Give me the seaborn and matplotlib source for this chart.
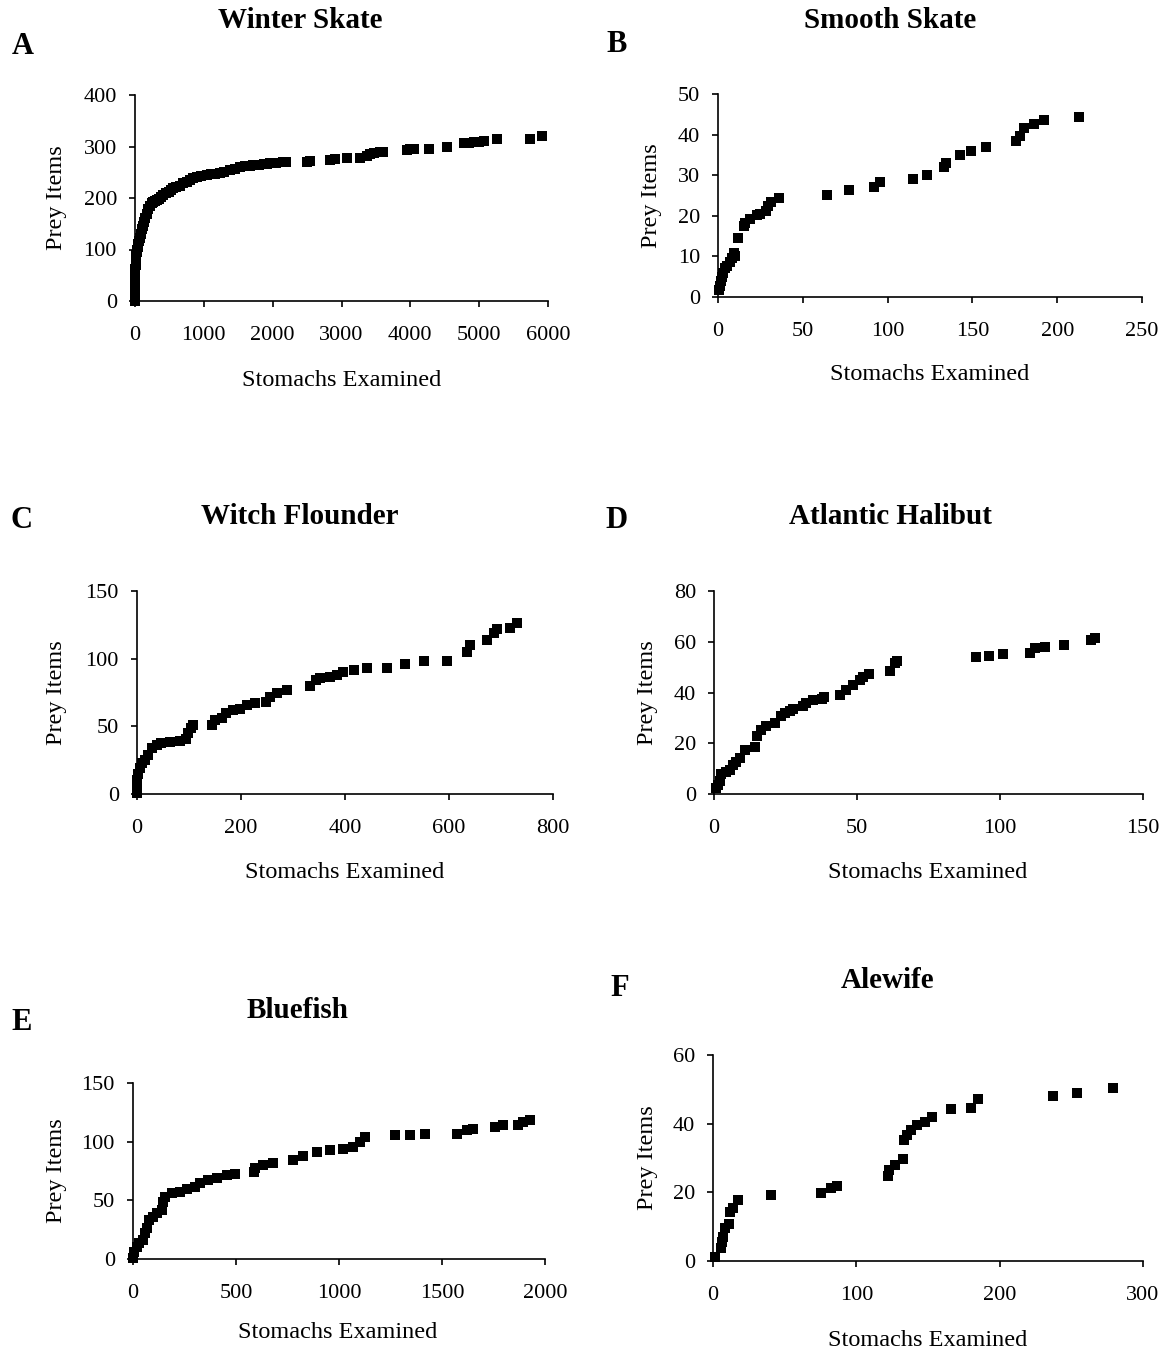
import matplotlib
matplotlib.use("Agg")
import matplotlib.pyplot as plt
import seaborn as sns
import pandas as pd

# ---------------- data ----------------
ws_x = [0, 0, 0, 0, 0, 3, 5, 8, 12, 16,
        20, 25, 30, 38, 48, 58, 70, 85, 97, 110,
        125, 145, 170, 195, 220, 242, 265, 290, 315, 345,
        380, 412, 450, 490, 530, 557, 600, 650, 703, 750,
        800, 848, 900, 960, 1042, 1100, 1160, 1236, 1300, 1381,
        1450, 1526, 1600, 1672, 1720, 1800, 1870, 1914, 1963, 2050,
        2157, 2200, 2496, 2544, 2835, 2900, 3078, 3272, 3369, 3420,
        3465, 3563, 3600, 3950, 4000, 4047, 4265, 4531, 4774, 4850,
        4919, 5000, 5065, 5258, 5743, 5913]
ws_y = [0, 12, 25, 38, 50, 56, 62, 70, 78, 85,
        90, 95, 100, 105, 110, 116, 122, 130, 139, 146,
        154, 162, 168, 178, 185, 190, 193, 195, 196, 199,
        202, 206, 209, 212, 216, 219, 221, 224, 229, 232,
        235, 239, 240, 242, 245, 246, 247, 248, 251, 254,
        257, 260, 262, 263, 264, 265, 266, 266, 267, 268,
        269, 270, 270, 272, 274, 275, 277, 277, 281, 285,
        288, 290, 290, 293, 295, 296, 296, 300, 306, 307,
        308, 309, 310, 314, 314, 320]

ss_x = [0.4, 1, 1.8, 2.4, 3, 4.3, 5.3, 7.3, 8.3, 9.2,
        10.2, 11.8, 15.1, 16.1, 19.1, 23, 25, 28.5, 29.3, 31.2,
        36.2, 64.3, 77, 91.8, 95.7, 114.8, 123.2, 133, 134.4, 142.9,
        149.4, 158, 175.9, 177.9, 180.6, 186.1, 192, 212.7]
ss_y = [1.8, 2.6, 3.9, 5, 6, 7.1, 7.7, 8.5, 9.6, 10.8,
        10, 14.5, 17.4, 18.2, 19.2, 20.2, 20.5, 21.3, 22.5, 23.3,
        24.3, 25.2, 26.4, 27, 28.4, 29, 30.1, 32.1, 33, 35,
        36, 37, 38.4, 39.7, 41.6, 42.5, 43.6, 44.4]

wf_x = [0, 0, 0.6, 2.6, 5.8, 9, 15, 22, 28, 38,
        47, 63, 83, 95, 99, 103, 108, 144, 150, 163,
        172, 185, 198, 211, 227, 249, 256, 269, 288, 333,
        345, 352, 372, 385, 397, 417, 442, 481, 516, 551,
        596, 635, 641, 673, 686, 692, 718, 731]
wf_y = [0.5, 5, 10, 15, 19, 22.7, 25, 29, 34, 36,
        37.4, 38.7, 39.4, 41, 45, 48.5, 51, 51, 54.7, 56,
        60, 62, 63, 66, 67, 68, 72, 74.5, 77, 79.6,
        84.5, 85.6, 86.8, 88, 90.5, 91.7, 93, 93, 96, 98,
        98, 105, 110, 114, 119, 122, 122.5, 126.6]

ah_x = [0.6, 1.4, 2.2, 2.6, 4.3, 5.5, 6.7, 7.8, 9, 10.7,
        14.2, 15, 16.6, 18.3, 21.2, 23.6, 24.7, 26.5, 27.7, 31.2,
        32.3, 34.7, 37.6, 38.4, 44, 46.3, 48.7, 51, 52, 54.3,
        61.7, 63.3, 64, 91.6, 96, 101, 110.5, 112.3, 115.8, 122.4,
        131.8, 133.3]
ah_y = [2.4, 3.7, 5, 8, 8.5, 9.6, 11.5, 12.5, 14.2, 17.4,
        18.5, 22.7, 25.3, 26.9, 28, 30.6, 31.9, 32.9, 33.4, 34.8,
        35.8, 36.9, 37.4, 38.4, 39.1, 41, 43, 45, 46.3, 47.3,
        48.3, 51.5, 52.6, 53.8, 54.2, 55.2, 55.7, 57.4, 58, 58.8,
        60.7, 61.6]

bf_x = [1.6, 5, 18, 31, 50, 58, 66, 79, 99, 118,
        139, 147, 156, 188, 228, 261, 301, 326, 366, 407,
        455, 496, 585, 593, 633, 682, 777, 826, 891, 955,
        1020, 1069, 1101, 1125, 1271, 1344, 1417, 1571, 1619, 1652,
        1757, 1798, 1870, 1895, 1927]
bf_y = [0.6, 6.3, 10.5, 13.4, 16.2, 22, 26, 33, 36, 39,
        42, 49, 53, 56, 57.4, 59.4, 61, 65, 67.3, 68.8,
        71.6, 72.4, 74.4, 77.3, 80, 82, 84.8, 87.6, 91.3, 92.7,
        94.1, 95.5, 99.8, 104, 105.5, 105.5, 106.9, 106.9, 109.7, 111,
        112.6, 114, 114, 116.8, 118.2]

aw_x = [1.6, 5.6, 6.3, 7, 8.1, 10.9, 12.1, 13.7, 17.4, 40.7,
        75.6, 82.6, 86.5, 122, 123, 126.7, 132.6, 133.5, 135.3, 138.1,
        142.3, 148.1, 152.8, 166, 180.2, 184.9, 237.2, 254, 278.8]
aw_y = [1.1, 3.7, 5.6, 7.1, 9.5, 10.8, 14.4, 15.3, 17.8, 19.2,
        19.7, 21.4, 21.9, 24.8, 26.5, 28, 29.6, 35.2, 36.7, 38.2,
        39.6, 40.6, 42, 44.3, 44.7, 47.1, 48.1, 49, 50.5]

titles = ["Winter Skate", "Smooth Skate", "Witch Flounder",
          "Atlantic Halibut", "Bluefish", "Alewife"]
letters = ["A", "B", "C", "D", "E", "F"]
x_ticks = [[0, 1000, 2000, 3000, 4000, 5000, 6000], [0, 50, 100, 150, 200, 250],
           [0, 200, 400, 600, 800], [0, 50, 100, 150],
           [0, 500, 1000, 1500, 2000], [0, 100, 200, 300]]
y_ticks = [[0, 100, 200, 300, 400], [0, 10, 20, 30, 40, 50],
           [0, 50, 100, 150], [0, 20, 40, 60, 80],
           [0, 50, 100, 150], [0, 20, 40, 60]]
x_label = "Stomachs Examined"
y_label = "Prey Items"

series = [(ws_x, ws_y), (ss_x, ss_y), (wf_x, wf_y),
          (ah_x, ah_y), (bf_x, bf_y), (aw_x, aw_y)]

# ---------------- layout (pixels) ----------------
W, H = 1167, 1355
boxes = [(135, 548, 95, 301), (718, 1142, 94, 297),
         (137, 553, 591, 794), (714, 1143, 591, 794),
         (133, 545, 1083, 1259), (713, 1143, 1055, 1261)]
title_pos = [(300, 20), (890, 20), (300, 517), (890, 517), (298, 1010), (888, 980)]
letter_pos = [(23, 47), (617, 45), (22, 520), (617, 520), (22, 1022), (620, 988)]
xlab_pos = [(342, 380), (930, 375), (345, 872), (928, 872), (338, 1332), (928, 1340)]
ylab_x = [57, 652, 57, 647, 57, 647]

sns.set_style("ticks")
plt.rcParams["font.family"] = ["Liberation Serif", "DejaVu Serif"]
plt.rcParams["text.color"] = "black"
plt.rcParams["axes.labelcolor"] = "black"
plt.rcParams["xtick.color"] = "black"
plt.rcParams["ytick.color"] = "black"
plt.rcParams["axes.edgecolor"] = "black"

fig = plt.figure(figsize=(W / 100, H / 100), dpi=100)
fig.patch.set_facecolor("white")

for i, ((xs, ys), (l, r, t, b)) in enumerate(zip(series, boxes)):
    ax = fig.add_axes([l / W, (H - b) / H, (r - l) / W, (b - t) / H])
    df = pd.DataFrame({"x": xs, "y": ys})
    sns.scatterplot(data=df, x="x", y="y", ax=ax, marker="s", s=52,
                    color="black", linewidth=0, clip_on=False)
    ax.set_xlim(x_ticks[i][0], x_ticks[i][-1])
    ax.set_ylim(y_ticks[i][0], y_ticks[i][-1])
    ax.set_xticks(x_ticks[i])
    ax.set_yticks(y_ticks[i])
    ax.set_xlabel("")
    ax.set_ylabel("")
    sns.despine(ax=ax)
    for sp in ["left", "bottom"]:
        ax.spines[sp].set_linewidth(1.2)
        ax.spines[sp].set_color("black")
    ax.tick_params(axis="x", direction="out", length=4, width=1.2,
                   pad=14, labelsize=16, colors="black")
    ax.tick_params(axis="y", direction="out", length=4, width=1.2,
                   pad=9, labelsize=16, colors="black")
    ax.set_facecolor("white")

    tx, ty = title_pos[i]
    fig.text(tx / W, 1 - ty / H, titles[i], ha="center", va="center",
             fontsize=21, fontweight="bold", color="black")
    lx, ly = letter_pos[i]
    fig.text(lx / W, 1 - ly / H, letters[i], ha="center", va="center",
             fontsize=22, fontweight="bold", color="black")
    xx, xy = xlab_pos[i]
    fig.text(xx / W, 1 - xy / H, x_label, ha="center", va="center",
             fontsize=17.5, color="black")
    fig.text(ylab_x[i] / W, 1 - ((t + b) / 2) / H, y_label, ha="center",
             va="center", rotation=90, fontsize=17.5, color="black")

fig.savefig("out.png", dpi=100, facecolor="white")
